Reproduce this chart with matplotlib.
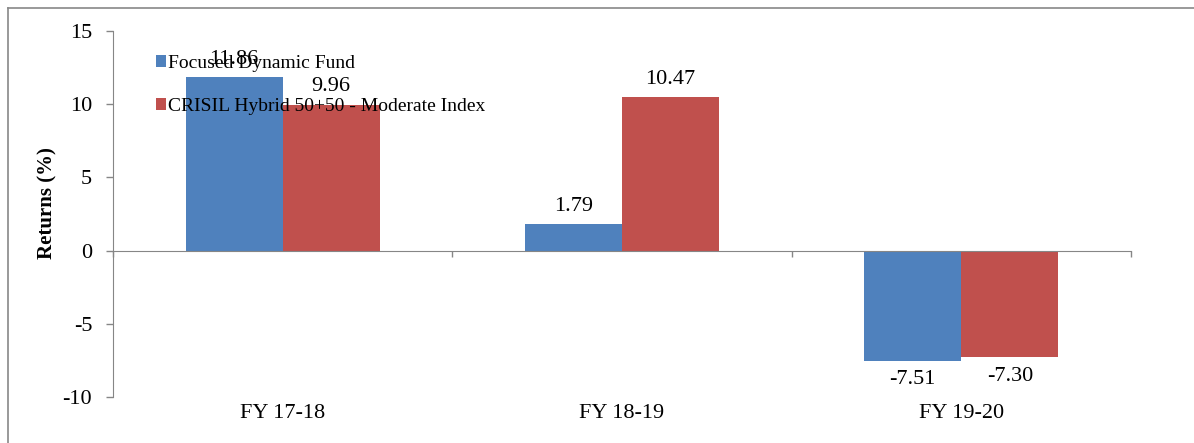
import numpy as np
import matplotlib.pyplot as plt
from matplotlib.lines import Line2D
import matplotlib.transforms as mtransforms

categories = ["FY 17-18", "FY 18-19", "FY 19-20"]
fund = [11.86, 1.79, -7.51]
index = [9.96, 10.47, -7.30]
series_names = ["Focused Dynamic Fund", "CRISIL Hybrid 50+50 - Moderate Index"]
colors = ["#4F81BD", "#C0504D"]

plt.rcParams["font.family"] = ["Liberation Serif", "DejaVu Serif"]

fig = plt.figure(figsize=(11.94, 4.43), dpi=100)
ax = fig.add_axes([113 / 1194, 1 - 397 / 443, (1131 - 113) / 1194, 366 / 443])

x = np.arange(len(categories))
w = 0.286
bars1 = ax.bar(x - w, fund, w, align="edge", color=colors[0], label=series_names[0])
bars2 = ax.bar(x, index, w, align="edge", color=colors[1], label=series_names[1])

# value labels
for bars in (bars1, bars2):
    for b in bars:
        v = b.get_height()
        cx = b.get_x() + b.get_width() / 2
        if v >= 0:
            ax.annotate(f"{v:.2f}", (cx, v), xytext=(0, 6), textcoords="offset points",
                        ha="center", va="bottom", fontsize=16)
        else:
            ax.annotate(f"{v:.2f}", (cx, v), xytext=(0, -7), textcoords="offset points",
                        ha="center", va="top", fontsize=16)

ax.set_xlim(-0.5, len(categories) - 0.5)
ax.set_ylim(-10, 15)
ax.set_yticks([-10, -5, 0, 5, 10, 15])
ax.set_yticklabels(["-10", "-5", "0", "5", "10", "15"])
ax.tick_params(axis="y", length=5, width=1, color="#868686", pad=10, labelsize=16)

for s in ["top", "right"]:
    ax.spines[s].set_visible(False)
ax.spines["left"].set_color("#868686")
ax.spines["bottom"].set_position(("data", 0))
ax.spines["bottom"].set_color("#868686")
ax.set_xticks(np.arange(len(categories) + 1) - 0.5)
ax.set_xticklabels([])
ax.tick_params(axis="x", length=4, width=1, color="#868686", direction="out")

# category labels at the bottom
trans = mtransforms.blended_transform_factory(ax.transData, ax.transAxes)
for xi, c in zip(x, categories):
    ax.text(xi, -0.045, c, transform=trans, ha="center", va="center", fontsize=16)

ax.set_ylabel("Returns (%)", fontsize=15, fontweight="bold")
ax.yaxis.set_label_coords(-0.055, 0.53)

leg = ax.legend(loc="upper left", bbox_to_anchor=(0.042, 0.935), frameon=False,
                fontsize=14, handlelength=0.55, handleheight=0.55, handletextpad=0.1,
                labelspacing=1.35, borderpad=0, borderaxespad=0)

# outer chart border (top and left visible)
fig.add_artist(Line2D([8 / 1194, 8 / 1194], [0, 1 - 8 / 443], color="#888888", lw=1.2))
fig.add_artist(Line2D([8 / 1194, 1], [1 - 8 / 443, 1 - 8 / 443], color="#888888", lw=1.2))

fig.savefig("out.png", dpi=100)
